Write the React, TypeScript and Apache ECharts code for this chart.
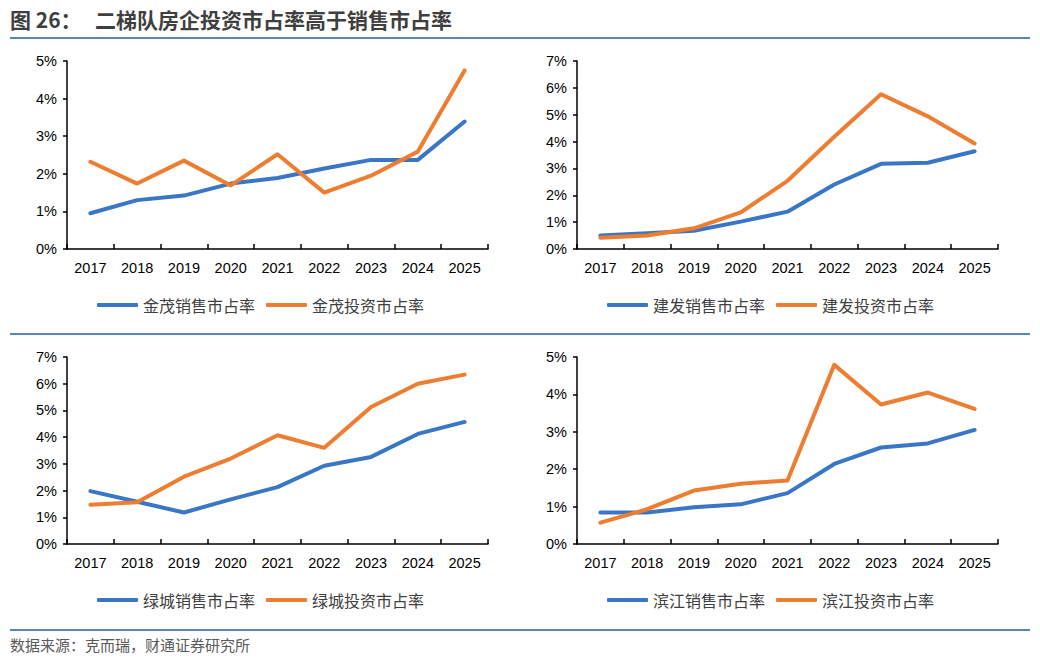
import React, { useEffect, useRef } from "react";
import * as echarts from "echarts";

const years = ["2017", "2018", "2019", "2020", "2021", "2022", "2023", "2024", "2025"];

const jinmaoSales = [0.95, 1.3, 1.42, 1.74, 1.89, 2.14, 2.37, 2.37, 3.39];
const jinmaoInvest = [2.32, 1.74, 2.35, 1.69, 2.52, 1.5, 1.95, 2.59, 4.75];

const jianfaSales = [0.5, 0.59, 0.68, 1.02, 1.39, 2.4, 3.17, 3.21, 3.64];
const jianfaInvest = [0.42, 0.5, 0.77, 1.36, 2.54, 4.18, 5.76, 4.94, 3.93];

const lvchengSales = [1.98, 1.58, 1.18, 1.67, 2.13, 2.93, 3.26, 4.12, 4.57];
const lvchengInvest = [1.47, 1.56, 2.52, 3.2, 4.07, 3.6, 5.13, 6.0, 6.34];

const binjiangSales = [0.84, 0.84, 0.98, 1.06, 1.36, 2.14, 2.58, 2.69, 3.05];
const binjiangInvest = [0.57, 0.93, 1.43, 1.61, 1.7, 4.79, 3.73, 4.05, 3.61];

const panelNames = ["金茂", "建发", "绿城", "滨江"];
const panelMax = [5, 7, 7, 5];
const salesData = [jinmaoSales, jianfaSales, lvchengSales, binjiangSales];
const investData = [jinmaoInvest, jianfaInvest, lvchengInvest, binjiangInvest];

const titleLabel = "图 26：";
const titleText = "二梯队房企投资市占率高于销售市占率";
const sourceText = "数据来源：克而瑞，财通证券研究所";

const BLUE = "#3a76c6";
const ORANGE = "#ed7d31";
const RULE = "#1f5f9e";

export default function App() {
  const ref = useRef<HTMLDivElement>(null);

  useEffect(() => {
    if (!ref.current) return;
    const chart = echarts.init(ref.current, null, { renderer: "svg" });

    const gridPos = [
      { left: 67, top: 61, width: 421, height: 188 },
      { left: 577, top: 61, width: 421, height: 188 },
      { left: 67, top: 357, width: 421, height: 187 },
      { left: 577, top: 357, width: 421, height: 187 },
    ];
    const legendPos = [
      { left: 97, top: 297 },
      { left: 607, top: 297 },
      { left: 97, top: 592 },
      { left: 607, top: 592 },
    ];

    const axisFont = { fontFamily: "Liberation Sans, Arial, sans-serif", fontSize: 14.5, color: "#000" };

    const grid = gridPos.map((g) => ({ ...g, containLabel: false }));
    const xAxis = gridPos.map((_, i) => ({
      type: "category",
      gridIndex: i,
      data: years,
      boundaryGap: true,
      axisLine: { lineStyle: { color: "#000", width: 1.5 } },
      axisTick: { show: true, inside: true, length: 5, lineStyle: { color: "#000", width: 1.5 } },
      axisLabel: { ...axisFont, margin: 11 },
      splitLine: { show: false },
    }));
    const yAxis = gridPos.map((_, i) => ({
      type: "value",
      gridIndex: i,
      min: 0,
      max: panelMax[i],
      interval: 1,
      axisLine: { show: true, lineStyle: { color: "#000", width: 1.5 } },
      axisTick: { show: true, inside: false, length: 4, lineStyle: { color: "#000", width: 1.5 } },
      axisLabel: { ...axisFont, margin: 10, formatter: "{value}%" },
      splitLine: { show: false },
    }));

    const series: any[] = [];
    const legend: any[] = [];
    panelNames.forEach((n, i) => {
      const sName = n + "销售市占率";
      const iName = n + "投资市占率";
      series.push({
        name: sName,
        type: "line",
        xAxisIndex: i,
        yAxisIndex: i,
        data: salesData[i],
        showSymbol: false,
        symbol: "none",
        lineStyle: { color: BLUE, width: 4, cap: "round", join: "round" },
        itemStyle: { color: BLUE },
        z: 2,
      });
      series.push({
        name: iName,
        type: "line",
        xAxisIndex: i,
        yAxisIndex: i,
        data: investData[i],
        showSymbol: false,
        symbol: "none",
        lineStyle: { color: ORANGE, width: 4, cap: "round", join: "round" },
        itemStyle: { color: ORANGE },
        z: 3,
      });
      legend.push({
        data: [sName, iName],
        left: legendPos[i].left,
        top: legendPos[i].top,
        padding: 0,
        orient: "horizontal",
        icon: "roundRect",
        itemWidth: 41,
        itemHeight: 4,
        itemGap: 11,
        textStyle: {
          fontFamily: "Noto Sans CJK SC",
          fontSize: 16,
          color: "#404040",
        },
      });
    });

    const graphic: any[] = [
      {
        type: "text",
        left: 10,
        top: 8,
        style: {
          text: titleLabel,
          fontFamily: "Noto Sans CJK SC",
          fontSize: 21,
          fontWeight: "bold",
          fill: "#3f3f3f",
        },
      },
      {
        type: "text",
        left: 95,
        top: 8,
        style: {
          text: titleText,
          fontFamily: "Noto Sans CJK SC",
          fontSize: 21,
          fontWeight: "bold",
          fill: "#3f3f3f",
        },
      },
      { type: "line", shape: { x1: 10, y1: 38, x2: 1030, y2: 38 }, style: { stroke: RULE, lineWidth: 1.5 } },
      { type: "line", shape: { x1: 10, y1: 334, x2: 1030, y2: 334 }, style: { stroke: RULE, lineWidth: 1.5 } },
      { type: "line", shape: { x1: 10, y1: 630, x2: 1030, y2: 630 }, style: { stroke: RULE, lineWidth: 1.5 } },
      {
        type: "text",
        left: 10,
        top: 637,
        style: {
          text: sourceText,
          fontFamily: "Noto Sans CJK SC",
          fontSize: 15,
          fill: "#595959",
        },
      },
    ];

    chart.setOption({
      animation: false,
      backgroundColor: "#ffffff",
      grid,
      xAxis,
      yAxis,
      series,
      legend,
      graphic,
    });

    return () => chart.dispose();
  }, []);

  return (
    <div
      ref={ref}
      style={{ position: "fixed", left: 0, top: 0, width: 1040, height: 665, background: "#fff" }}
    />
  );
}
